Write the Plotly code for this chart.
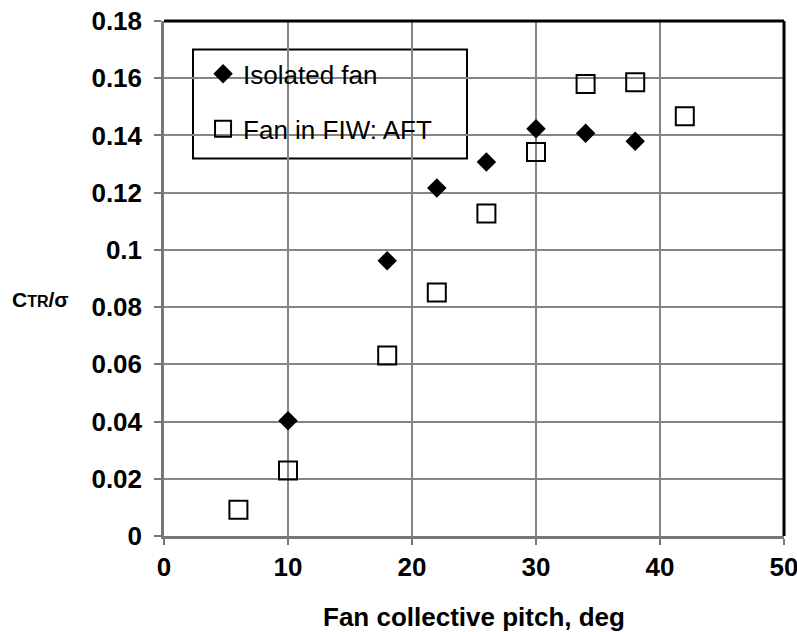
import plotly.graph_objects as go

# Data
pitch_isolated = [10, 18, 22, 26, 30, 34, 38]
ct_isolated = [0.0403, 0.0962, 0.1216, 0.1307, 0.1423, 0.1408, 0.1380]

pitch_fiw = [6, 10, 18, 22, 26, 30, 34, 38, 42]
ct_fiw = [0.0092, 0.0229, 0.0631, 0.0851, 0.1127, 0.1342, 0.1580, 0.1586, 0.1467]

x_ticks = [0, 10, 20, 30, 40, 50]
y_ticks = [0, 0.02, 0.04, 0.06, 0.08, 0.1, 0.12, 0.14, 0.16, 0.18]
y_tick_labels = ["0", "0.02", "0.04", "0.06", "0.08", "0.1", "0.12", "0.14", "0.16", "0.18"]

FONT = "Arial, Liberation Sans, sans-serif"
GRID = "#858585"

fig = go.Figure()
fig.add_trace(go.Scatter(
    x=pitch_isolated, y=ct_isolated, mode="markers", name="Isolated fan",
    legendgroup="a",
    marker=dict(symbol="diamond", size=15, color="black", line=dict(width=0)),
))
fig.add_trace(go.Scatter(
    x=pitch_fiw, y=ct_fiw, mode="markers", name="Fan in FIW: AFT",
    legendgroup="b",
    marker=dict(symbol="square-open", size=18, color="black", line=dict(width=2, color="black")),
))

# legend box
fig.add_shape(type="rect", xref="paper", yref="paper",
              x0=0.0468, x1=0.4887, y0=0.733, y1=0.9447,
              line=dict(color="black", width=2), fillcolor="white", layer="below")
# top and right frame
fig.add_shape(type="line", xref="paper", yref="paper", x0=0, x1=1, y0=1, y1=1,
              line=dict(color="black", width=3))
fig.add_shape(type="line", xref="paper", yref="paper", x0=1, x1=1, y0=0, y1=1,
              line=dict(color="black", width=3))

fig.add_annotation(
    text="<b>C<span style='font-size:16px'>TR</span>/σ</b>",
    xref="paper", yref="paper", x=-0.2, y=0.46, xanchor="center", yanchor="middle",
    showarrow=False, font=dict(family=FONT, size=21, color="black"),
)
fig.add_annotation(
    text="<b>Fan collective pitch, deg</b>",
    xref="paper", yref="paper", x=0.5, y=-0.158, xanchor="center", yanchor="middle",
    showarrow=False, font=dict(family=FONT, size=26, color="black"),
)

fig.update_layout(
    width=797, height=632,
    margin=dict(l=164, r=13, t=21, b=96, autoexpand=False),
    paper_bgcolor="white", plot_bgcolor="white",
    font=dict(family=FONT, color="black"),
    showlegend=True,
    legend=dict(
        x=0.063, y=0.9428, xanchor="left", yanchor="top",
        bgcolor="rgba(0,0,0,0)", borderwidth=0,
        font=dict(family=FONT, size=26, color="black"),
        traceorder="grouped", tracegroupgap=18,
    ),
    xaxis=dict(
        range=[0, 50], tickvals=x_ticks, ticktext=[str(v) for v in x_ticks],
        showgrid=True, gridcolor=GRID, gridwidth=2,
        showline=True, linecolor="#777777", linewidth=2.5,
        ticks="outside", ticklen=6, tickcolor="#777777", tickwidth=2,
        tickfont=dict(family=FONT, size=26, color="black", weight="bold"),
        ticklabelstandoff=0, ticklabeloverflow="allow",
        zeroline=False, automargin=False,
    ),
    yaxis=dict(
        range=[0, 0.18], tickvals=y_ticks, ticktext=y_tick_labels,
        showgrid=True, gridcolor=GRID, gridwidth=2,
        showline=True, linecolor="#777777", linewidth=2.5,
        ticks="outside", ticklen=7, tickcolor="#777777", tickwidth=2,
        tickfont=dict(family=FONT, size=26, color="black", weight="bold"),
        ticklabelstandoff=7,
        zeroline=False, automargin=False,
    ),
)

fig.write_html("out.html")
